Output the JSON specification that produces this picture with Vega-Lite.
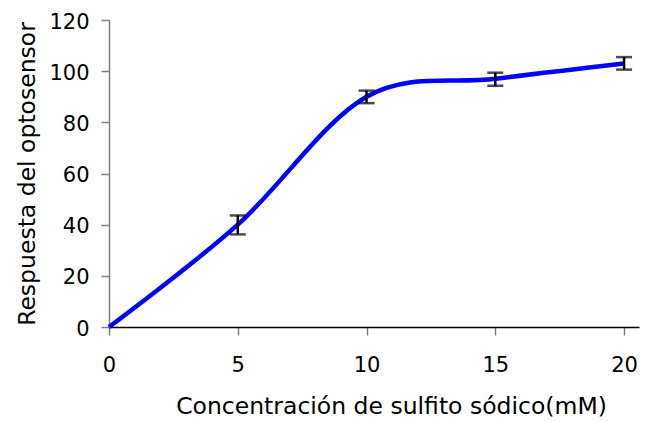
{
  "$schema": "https://vega.github.io/schema/vega-lite/v6.json",
  "width": 530,
  "height": 307,
  "autosize": {"type": "none"},
  "padding": {"left": 109, "top": 20, "right": 28, "bottom": 95},
  "background": "white",
  "config": {
    "view": {"stroke": null},
    "font": "DejaVu Sans",
    "axis": {
      "grid": false,
      "labelFont": "DejaVu Sans",
      "titleFont": "DejaVu Sans",
      "labelColor": "black",
      "titleColor": "black",
      "labelFontSize": 21,
      "titleFontSize": 23.5,
      "titleFontWeight": "normal",
      "tickColor": "#808080",
      "tickSize": 8,
      "tickWidth": 1.5
    }
  },
  "data": {
    "values": [
      {"conc": 0, "resp": 0, "lo": null, "hi": null},
      {"conc": 5, "resp": 40, "lo": 36.2, "hi": 43.6},
      {"conc": 10, "resp": 90, "lo": 87.5, "hi": 92.4},
      {"conc": 15, "resp": 97, "lo": 94.3, "hi": 99.4},
      {"conc": 20, "resp": 103, "lo": 100.6, "hi": 105.5}
    ]
  },
  "layer": [
    {
      "mark": {"type": "line", "interpolate": "cardinal", "color": "#0000FF", "strokeWidth": 4.5, "clip": false},
      "encoding": {
        "x": {
          "field": "conc",
          "type": "quantitative",
          "scale": {"domain": [0, 20.58], "nice": false, "zero": false},
          "axis": {
            "values": [0, 5, 10, 15, 20],
            "title": "Concentración de sulfito sódico(mM)",
            "titleX": 282,
            "titleY": 86,
            "titleAnchor": null,
            "titleAlign": "center",
            "titleBaseline": "alphabetic",
            "labelBaseline": "middle",
            "labelPadding": 30,
            "labelFlush": false,
            "domainColor": "black",
            "domainWidth": 1.5
          }
        },
        "y": {
          "field": "resp",
          "type": "quantitative",
          "scale": {"domain": [0, 120], "nice": false},
          "axis": {
            "values": [0, 20, 40, 60, 80, 100, 120],
            "title": "Respuesta del optosensor",
            "titleAngle": -90,
            "titleX": -75,
            "titleY": 153.5,
            "titleAlign": "center",
            "titleBaseline": "alphabetic",
            "labelPadding": 12,
            "labelOffset": 2,
            "labelFlush": false,
            "domainColor": "#808080",
            "domainWidth": 1.5
          }
        }
      }
    },
    {
      "transform": [{"filter": "datum.lo != null"}],
      "mark": {"type": "rule", "color": "black", "strokeWidth": 2.5},
      "encoding": {
        "x": {"field": "conc", "type": "quantitative"},
        "y": {"field": "lo", "type": "quantitative"},
        "y2": {"field": "hi"}
      }
    },
    {
      "transform": [{"filter": "datum.lo != null"}],
      "mark": {"type": "tick", "orient": "horizontal", "color": "black", "size": 16, "thickness": 2.5},
      "encoding": {
        "x": {"field": "conc", "type": "quantitative"},
        "y": {"field": "lo", "type": "quantitative"}
      }
    },
    {
      "transform": [{"filter": "datum.lo != null"}],
      "mark": {"type": "tick", "orient": "horizontal", "color": "black", "size": 16, "thickness": 2.5},
      "encoding": {
        "x": {"field": "conc", "type": "quantitative"},
        "y": {"field": "hi", "type": "quantitative"}
      }
    }
  ]
}
